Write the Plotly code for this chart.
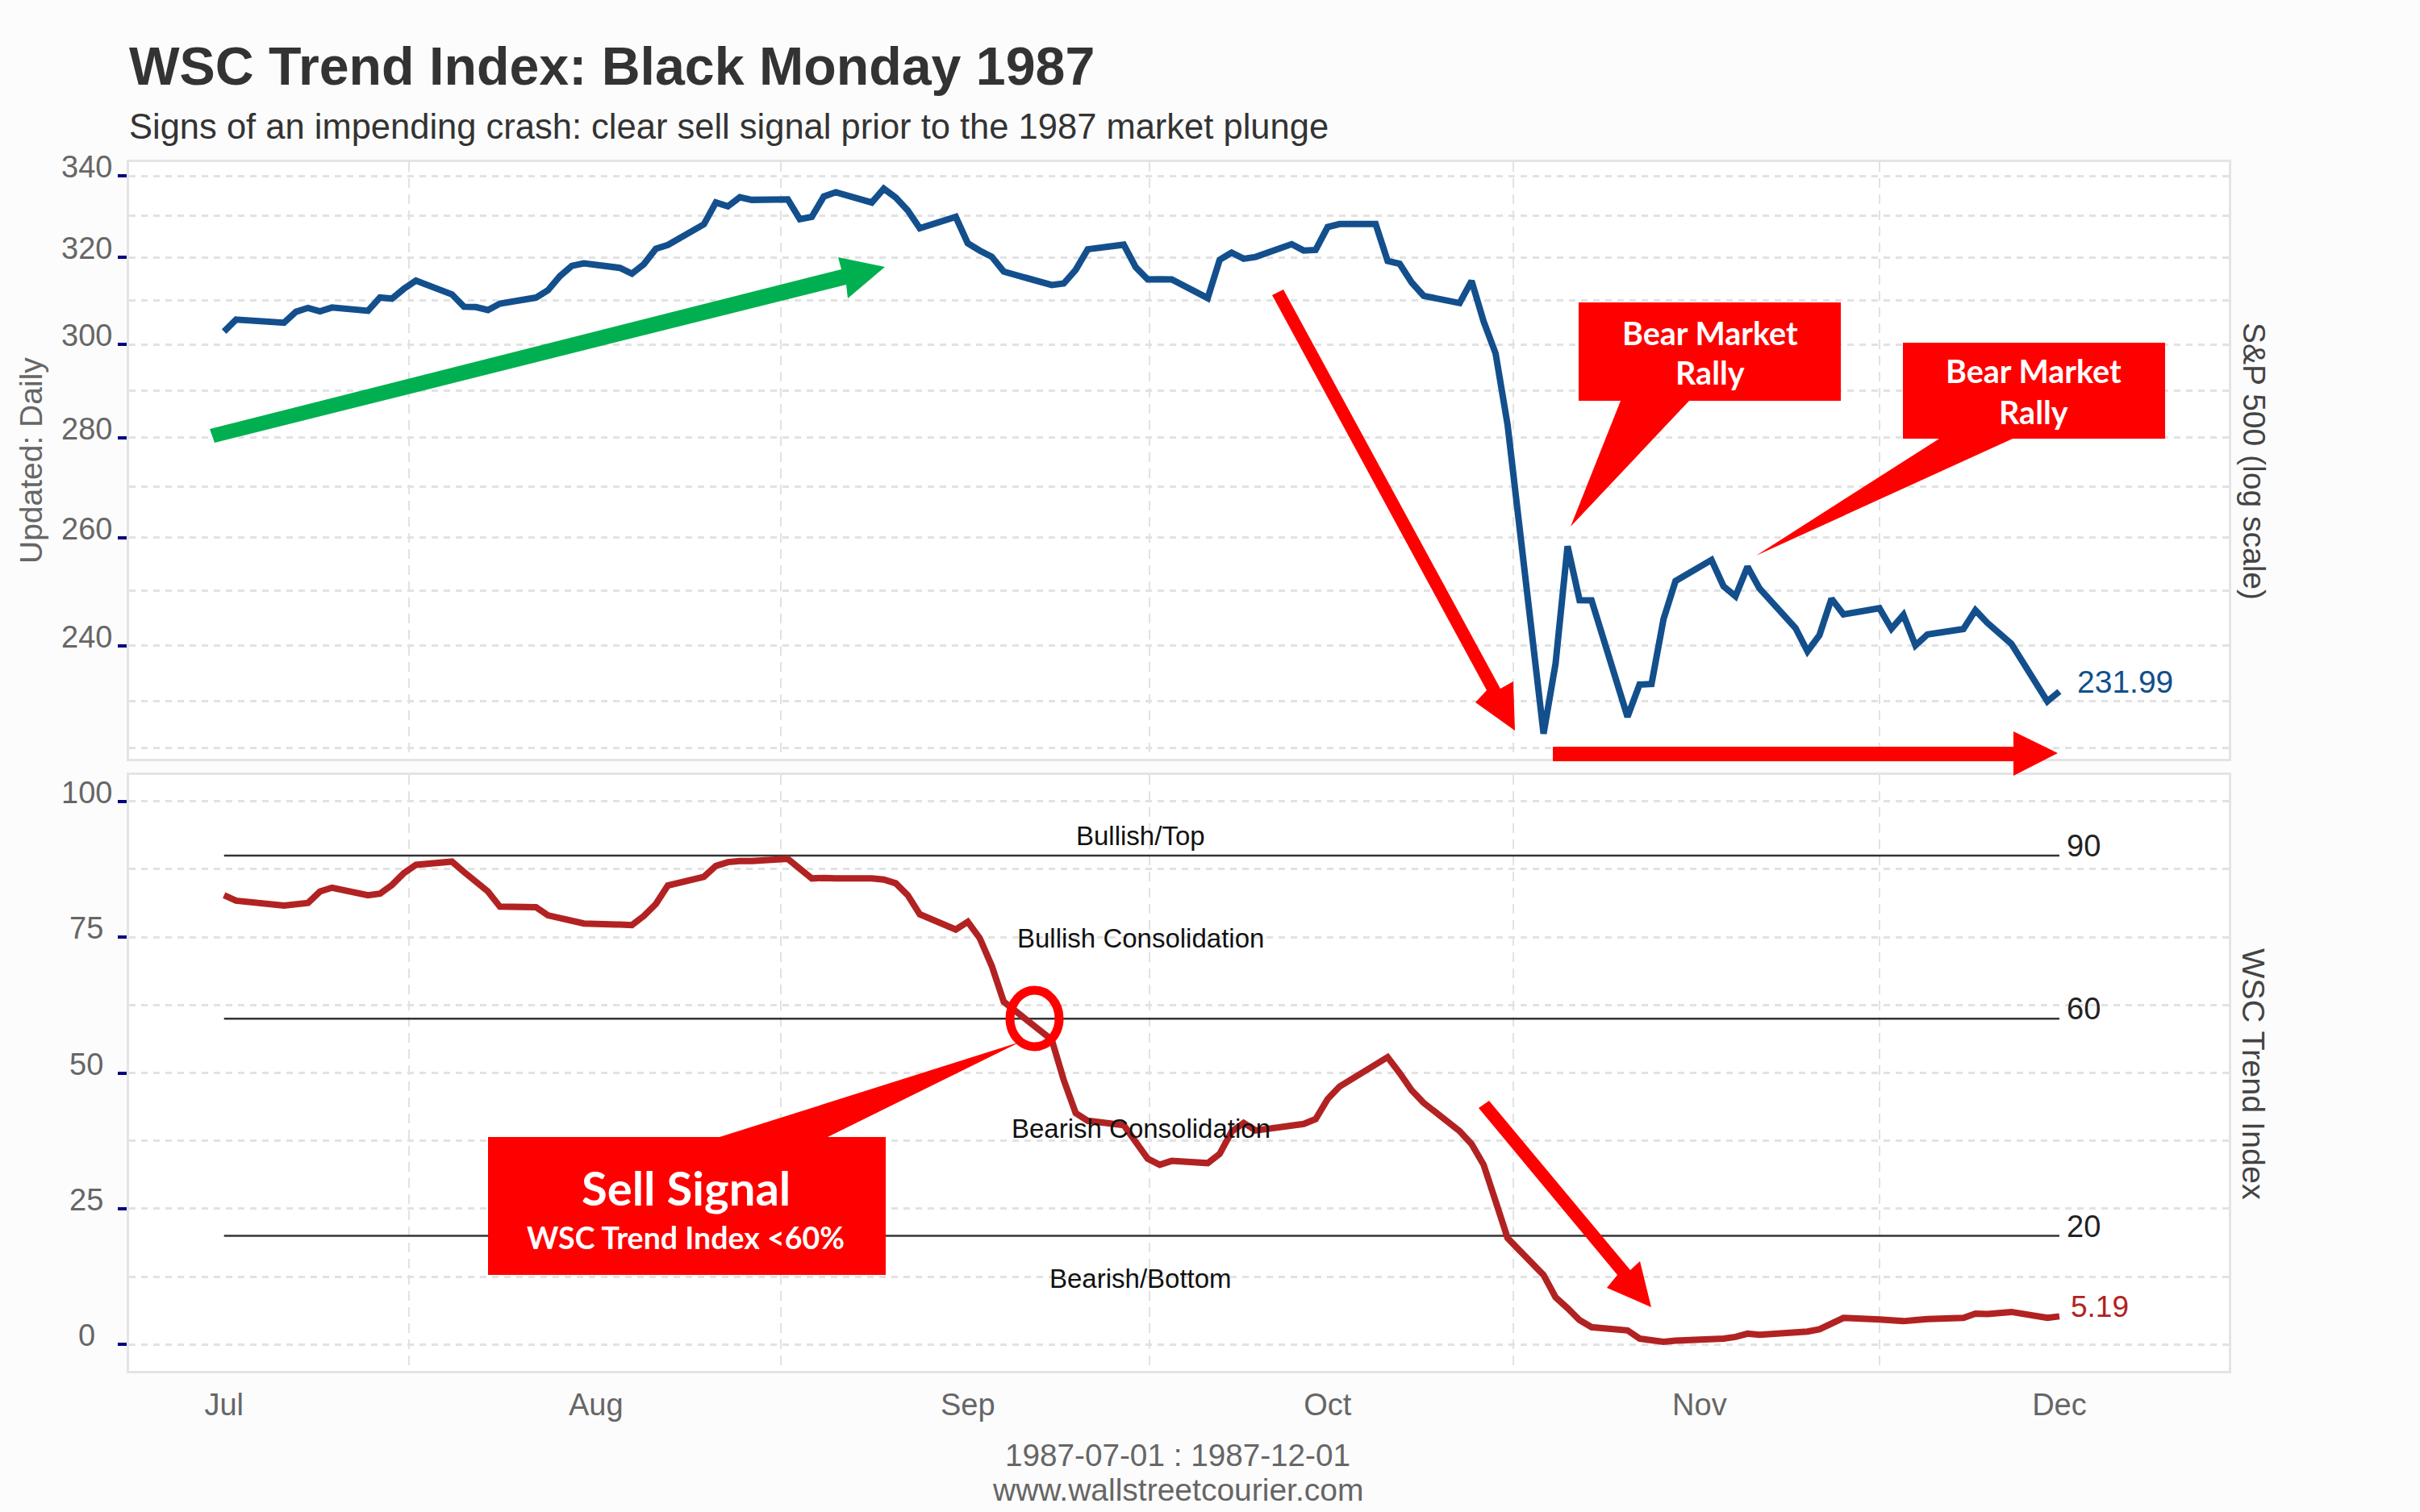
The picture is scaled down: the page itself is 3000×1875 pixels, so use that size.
import math

import pandas as pd
import plotly.graph_objects as go

W, H = 3000, 1875

# trading days, Jul 1 - Dec 1 1987
dates = pd.bdate_range("1987-07-01", "1987-12-01", freq="C",
                       holidays=["1987-07-03", "1987-09-07", "1987-11-26"])

spx = [
    302.94, 305.63, 304.92, 307.40, 308.29, 307.52, 308.37, 307.63, 310.68, 310.42, 312.70, 314.59,
    311.39, 308.55, 308.47, 307.81, 309.27, 310.65, 312.33, 315.65, 318.05, 318.66,
    317.57, 316.23, 318.45, 322.09, 323.00, 328.00, 333.33, 332.39, 334.65, 333.99,
    334.11, 329.25, 329.83, 334.84, 335.90, 333.33, 336.77, 334.57, 331.38, 327.04, 329.80,
    323.40, 321.68, 320.21, 316.70, 313.56, 313.92, 317.13, 321.98, 323.08, 317.74,
    314.86, 314.93, 314.86, 310.54, 319.50, 321.19, 319.72, 320.16, 323.20, 321.69, 321.83,
    327.33, 328.07, 328.08, 319.22, 318.54, 314.16, 311.07, 309.39, 314.52, 305.23, 298.08, 282.70,
    224.84, 236.83, 258.38, 248.25, 248.22, 227.67, 233.19, 233.28, 244.77, 251.79,
    255.75, 250.82, 248.96, 254.48, 250.41, 243.17, 239.00, 241.90, 248.52, 245.64,
    246.76, 243.04, 245.55, 240.05, 242.00, 242.99, 246.39, 244.10, 240.34, 230.30, 231.99,
]

trend = [
    82.7, 81.7, 80.8, 81.1, 81.3, 83.4, 84.1, 82.7, 83.0, 84.6, 86.8, 88.3,
    88.9, 87.0, 85.3, 83.4, 80.6, 80.5, 79.0, 78.5, 77.9, 77.5,
    77.3, 77.2, 78.9, 81.1, 84.5, 86.1, 88.1, 88.8, 89.0, 89.0,
    89.4, 87.6, 85.8, 85.9, 85.8, 85.8, 85.6, 84.9, 82.7, 79.2, 76.4,
    77.8, 74.8, 69.7, 63.1, 56.1, 48.7, 42.6, 41.2, 40.4, 37.3,
    34.2, 33.1, 33.8, 33.4, 35.1, 39.2, 40.8, 39.4, 40.4, 40.6, 41.5,
    45.2, 47.5, 51.3, 52.9, 50.0, 46.8, 44.5, 39.3, 36.9, 33.1, 26.4, 19.6,
    12.8, 8.7, 6.7, 4.5, 3.2, 2.6, 1.1, 0.7, 0.5, 0.7,
    0.9, 1.1, 1.4, 2.0, 1.8, 2.1, 2.4, 2.8, 3.9, 4.9,
    4.6, 4.5, 4.3, 4.5, 4.7, 4.9, 5.7, 5.6, 6.0, 4.9, 5.19,
]

levels = [90, 60, 20]
zones = ["Bullish/Top", "Bullish Consolidation", "Bearish Consolidation", "Bearish/Bottom"]
zone_y = [93.7, 74.8, 39.7, 12.1]

spx_ticks = [340, 320, 300, 280, 260, 240]
spx_grid = [330, 310, 290, 270, 250, 230.4, 222.5]
trend_ticks = [100, 75, 50, 25, 0]
trend_grid = [87.5, 62.5, 37.5, 12.5]
month_ticks = ["1987-07-01", "1987-08-01", "1987-09-01", "1987-10-01", "1987-11-01", "1987-12-01"]
month_labels = ["Jul", "Aug", "Sep", "Oct", "Nov", "Dec"]
mid_month = ["1987-07-16 10:00", "1987-08-16 10:00", "1987-09-16 04:00", "1987-10-16 12:00", "1987-11-16 00:00"]

FONT = "Liberation Sans"
CALLOUT_FONT = "Lato"
BLUE = "#134f8c"
DARKRED = "#b22222"
RED = "#ff0000"
GREEN = "#00b050"
GREY = "#666666"
GRID = "#e2e2e2"
FRAME = "#e4e4e4"


def px(x):
    return x / W


def py(y):
    return 1 - y / H


def poly(points, color):
    # overlay drawn by hand on the picture, given in canvas pixels
    path = "M " + " L ".join(f"{px(x):.5f},{py(y):.5f}" for x, y in points) + " Z"
    return dict(type="path", xref="paper", yref="paper", path=path,
                fillcolor=color, line=dict(width=0), layer="above")


def label(text, x, y, size, color, **kw):
    return dict(text=text, x=px(x), y=py(y), xref="paper", yref="paper", showarrow=False,
                xanchor=kw.pop("xanchor", "center"), yanchor="middle",
                font=dict(family=kw.pop("family", FONT), size=size, color=color), **kw)


fig = go.Figure()
fig.add_trace(go.Scatter(x=dates, y=spx, mode="lines", line=dict(color=BLUE, width=8),
                         xaxis="x", yaxis="y", showlegend=False))
for lv in levels:
    fig.add_trace(go.Scatter(x=[month_ticks[0], month_ticks[-1]], y=[lv, lv], mode="lines",
                             line=dict(color="#333333", width=2.5), xaxis="x2", yaxis="y2", showlegend=False))
fig.add_trace(go.Scatter(x=dates, y=trend, mode="lines", line=dict(color=DARKRED, width=8),
                         xaxis="x2", yaxis="y2", showlegend=False))

shapes = [
    # green arrow
    poly([(260, 532), (1043, 334), (1039, 319), (1097, 331), (1051, 370), (1049, 353), (266, 549)], GREEN),
    # red arrow, S&P panel
    poly([(1577, 366), (1591, 359), (1860, 854), (1876, 845), (1878, 906), (1829, 871), (1843, 856)], RED),
    # red arrow along the bottom
    poly([(1925, 926), (2496, 926), (2496, 907), (2551, 934), (2496, 962), (2496, 944), (1925, 944)], RED),
    # red arrow, trend panel
    poly([(1833, 1374), (1846, 1365), (2021, 1575), (2033, 1564), (2047, 1621), (1992, 1597), (2005, 1581)], RED),
    # callouts
    poly([(1957, 375), (2282, 375), (2282, 497), (2094, 497), (1947, 653), (2009, 497), (1957, 497)], RED),
    poly([(2359, 425), (2684, 425), (2684, 544), (2495, 544), (2177, 689), (2404, 544), (2359, 544)], RED),
    poly([(605, 1410), (892, 1410), (1265, 1292), (1026, 1410), (1098, 1410), (1098, 1581), (605, 1581)], RED),
    dict(type="circle", xref="paper", yref="paper", x0=px(1252), x1=px(1313), y0=py(1298), y1=py(1228),
         line=dict(color=RED, width=11), layer="above"),
]

annotations = [
    label("<b>WSC Trend Index: Black Monday 1987</b>", 158, 82, 66.3, "#333333", xanchor="left"),
    label("Signs of an impending crash: clear sell signal prior to the 1987 market plunge", 158, 157, 43.5,
          "#333333", xanchor="left"),
    label("Updated: Daily", 38, 571, 39, GREY, textangle=-90),
    label("S&amp;P 500 (log scale)", 2794, 572, 39, "#444444", textangle=90),
    label("WSC Trend Index", 2794, 1332, 39.5, "#444444", textangle=90),
    label("1987-07-01 : 1987-12-01", 1460, 1804, 38.7, GREY),
    label("www.wallstreetcourier.com", 1460, 1847, 39, GREY),
    label("<b>Bear Market</b>", 2120, 412, 39.5, "#ffffff", family=CALLOUT_FONT),
    label("<b>Rally</b>", 2120, 462, 39.5, "#ffffff", family=CALLOUT_FONT),
    label("<b>Bear Market</b>", 2521, 460, 39.5, "#ffffff", family=CALLOUT_FONT),
    label("<b>Rally</b>", 2521, 511, 39.5, "#ffffff", family=CALLOUT_FONT),
    label("<b>Sell Signal</b>", 850, 1472, 58, "#ffffff", family=CALLOUT_FONT),
    label("<b>WSC Trend Index &lt;60%</b>", 850, 1534, 37.5, "#ffffff", family=CALLOUT_FONT),
]

# tick labels sit centred in their column, a little above the tick
for t in spx_ticks:
    annotations.append(dict(text=str(t), x=px(107), xref="paper", y=math.log10(t), yref="y", yshift=11,
                            showarrow=False, xanchor="center", yanchor="middle",
                            font=dict(family=FONT, size=38, color=GREY)))
for t in trend_ticks:
    annotations.append(dict(text=str(t), x=px(107), xref="paper", y=t, yref="y2", yshift=11,
                            showarrow=False, xanchor="center", yanchor="middle",
                            font=dict(family=FONT, size=38, color=GREY)))

for zone, zy in zip(zones, zone_y):
    annotations.append(dict(text=zone, x="1987-09-15 10:00", xref="x2", y=zy, yref="y2", showarrow=False,
                            font=dict(family=FONT, size=33, color="#111111")))
for lv in levels:
    annotations.append(dict(text=str(lv), x=month_ticks[-1], xref="x2", y=lv, yref="y2", xshift=7, yshift=12,
                            showarrow=False, xanchor="left", yanchor="middle",
                            font=dict(family=FONT, size=38, color="#222222")))
annotations.append(dict(text=f"{spx[-1]:.2f}", x=dates[-1], xref="x", y=math.log10(spx[-1]), yref="y",
                        xshift=20, yshift=12, showarrow=False, xanchor="left", yanchor="middle",
                        font=dict(family=FONT, size=39, color=BLUE)))
annotations.append(dict(text=f"{trend[-1]:.2f}", x=dates[-1], xref="x2", y=trend[-1], yref="y2",
                        xshift=12, yshift=12, showarrow=False, xanchor="left", yanchor="middle",
                        font=dict(family=FONT, size=37, color=DARKRED)))

fig.update_layout(
    width=W, height=H, margin=dict(l=0, r=0, t=0, b=0, pad=0), autosize=False,
    paper_bgcolor="#fcfcfc", plot_bgcolor="#ffffff", showlegend=False,
    font=dict(family=FONT, size=38, color=GREY),
    shapes=shapes, annotations=annotations,
)

x_range = ["1987-06-23 02:00", "1987-12-15 03:00"]
x_common = dict(type="date", range=x_range, showline=True, mirror=True, linecolor=FRAME, linewidth=3,
                showgrid=False, zeroline=False,
                tickmode="array", tickvals=month_ticks, ticktext=month_labels, ticks="",
                minor=dict(tickmode="array", tickvals=mid_month, showgrid=True, gridcolor=GRID, gridwidth=2,
                           griddash="12px,8px", ticks=""))
y_common = dict(showline=True, mirror=True, linecolor=FRAME, linewidth=3, zeroline=False,
                showgrid=True, gridcolor=GRID, gridwidth=3, griddash="8px,7px",
                ticks="outside", ticklen=11, tickwidth=4, tickcolor="#000080", showticklabels=False,
                tickmode="array")

fig.update_layout(
    xaxis=dict(x_common, domain=[px(160), px(2763)], anchor="y", showticklabels=False),
    xaxis2=dict(x_common, domain=[px(160), px(2763)], anchor="y2",
                tickfont=dict(family=FONT, size=38, color=GREY), ticklabelstandoff=6),
    yaxis=dict(y_common, type="log", domain=[py(941), py(201)], anchor="x", range=[2.3438, 2.5359],
               tickvals=spx_ticks,
               minor=dict(tickmode="array", tickvals=spx_grid, showgrid=True, gridcolor=GRID, gridwidth=3,
                          griddash="8px,7px", ticks="")),
    yaxis2=dict(y_common, domain=[py(1700), py(961)], anchor="x2", range=[-4.85, 104.85],
                tickvals=trend_ticks,
                minor=dict(tickmode="array", tickvals=trend_grid, showgrid=True, gridcolor=GRID, gridwidth=3,
                           griddash="8px,7px", ticks="")),
)

fig.write_html("out.html", config=dict(displayModeBar=False), post_script="document.body.style.margin='0';")
